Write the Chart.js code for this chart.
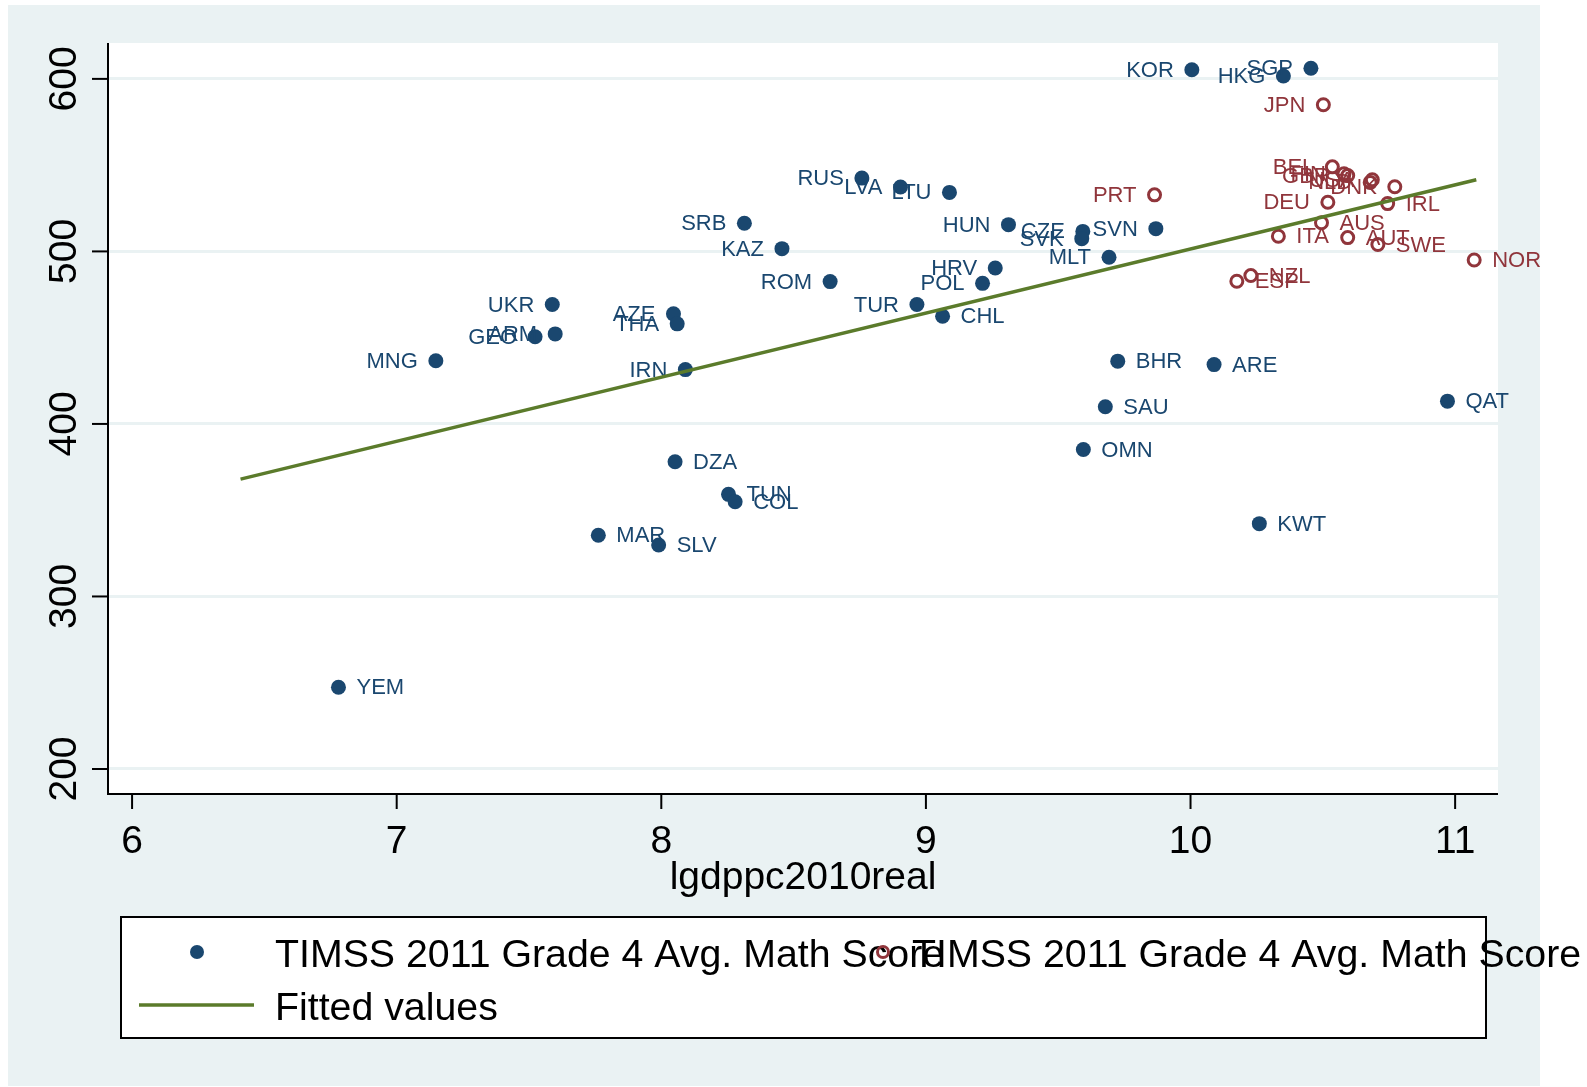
<!DOCTYPE html>
<html>
<head>
<meta charset="utf-8">
<script src="https://cdn.jsdelivr.net/npm/chart.js@4.4.1/dist/chart.umd.min.js"></script>
<style>
  html, body { margin: 0; padding: 0; background: #ffffff; }
  #chart { display: block; width: 1587px; height: 1087px; }
</style>
</head>
<body>
<canvas id="chart" width="1587" height="1087"></canvas>
<script>
// TIMSS 2011 grade 4 maths score vs log GDP per capita
const blueCodes = ['KOR', 'HKG', 'SGP', 'RUS', 'LVA', 'LTU', 'SRB', 'KAZ', 'HUN', 'CZE',
    'SVK', 'SVN', 'MLT', 'HRV', 'POL', 'ROM', 'TUR', 'CHL', 'UKR', 'AZE',
    'THA', 'ARM', 'GEO', 'MNG', 'IRN', 'BHR', 'ARE', 'SAU', 'QAT', 'OMN',
    'DZA', 'TUN', 'COL', 'MAR', 'SLV', 'KWT', 'YEM'];
const blueGdp = [10.005, 10.351, 10.455, 8.758, 8.904, 9.089, 8.314, 8.456, 9.312, 9.593,
    9.589, 9.869, 9.692, 9.262, 9.214, 8.638, 8.966, 9.063, 7.588, 8.046,
    8.060, 7.599, 7.523, 7.148, 8.091, 9.725, 10.089, 9.678, 10.971, 9.595,
    8.052, 8.254, 8.279, 7.762, 7.990, 10.260, 6.780];
const blueScore = [605.3, 601.7, 606.2, 542.5, 537.3, 534.2, 516.3, 501.6, 515.5, 511.6,
    507.4, 513.2, 496.6, 490.4, 481.5, 482.5, 469.2, 462.4, 469.2, 463.8,
    458.0, 452.2, 450.5, 436.6, 431.5, 436.4, 434.4, 410.0, 413.2, 385.2,
    378.1, 359.2, 354.9, 335.5, 329.8, 342.2, 247.4];

const redCodes = ['JPN', 'PRT', 'BEL', 'FIN', 'GBR', 'NLD', 'USA', 'DNK', 'DEU', 'IRL',
    'AUS', 'ITA', 'AUT', 'SWE', 'NOR', 'NZL', 'ESP'];
const redGdp = [10.502, 9.864, 10.536, 10.580, 10.594, 10.679, 10.687, 10.772, 10.519, 10.745,
    10.495, 10.332, 10.594, 10.708, 11.072, 10.228, 10.175];
const redScore = [585.0, 532.8, 549.0, 545.0, 544.0, 540.0, 541.5, 537.5, 528.5, 527.7,
    516.6, 508.8, 508.0, 504.0, 495.0, 486.0, 482.7];

// fitted line end points
const fitGdp = [6.41, 11.08];
const fitScore = [368.0, 541.5];

const xTicks = [6, 7, 8, 9, 10, 11];
const yTicks = [200, 300, 400, 500, 600];

// markers whose label sits on the left of the point
const labelLeft = ['KOR', 'HKG', 'SGP', 'RUS', 'LVA', 'LTU', 'SRB', 'KAZ', 'HUN', 'CZE',
    'SVK', 'SVN', 'MLT', 'HRV', 'POL', 'ROM', 'TUR', 'UKR', 'AZE', 'THA', 'ARM', 'GEO',
    'MNG', 'IRN', 'JPN', 'PRT', 'BEL', 'FIN', 'GBR', 'NLD', 'USA', 'DNK', 'DEU'];

const legendText = 'TIMSS 2011 Grade 4 Avg. Math Score';
const fitText = 'Fitted values';
const xTitle = 'lgdppc2010real';

const BLUE = '#1a476f';
const RED = '#90353b';
const GREEN = '#5b7b2b';
const PANEL = '#eaf2f3';
const FONT = '"Liberation Sans", Arial, sans-serif';

function toPoints(xs, ys) {
    return xs.map((x, i) => ({ x: x, y: ys[i] }));
}

const stataLook = {
    id: 'stataLook',
    beforeDraw(chart) {
        const ctx = chart.ctx;
        const a = chart.chartArea;
        ctx.save();
        ctx.fillStyle = '#ffffff';
        ctx.fillRect(0, 0, chart.width, chart.height);
        ctx.fillStyle = PANEL;
        ctx.fillRect(8, 5, 1532, 1081);
        ctx.fillStyle = '#ffffff';
        ctx.fillRect(a.left, a.top, a.right - a.left, a.bottom - a.top);
        ctx.restore();
    },
    afterDatasetDraw(chart, args) {
        // marker labels for the two scatter series
        let codes = null, color = null;
        if (args.index === 1) { codes = blueCodes; color = BLUE; }
        if (args.index === 2) { codes = redCodes; color = RED; }
        if (!codes) return;
        const ctx = chart.ctx;
        ctx.save();
        ctx.font = '22px ' + FONT;
        ctx.fillStyle = color;
        ctx.textBaseline = 'middle';
        args.meta.data.forEach((pt, i) => {
            const left = labelLeft.includes(codes[i]);
            ctx.textAlign = left ? 'right' : 'left';
            ctx.fillText(codes[i], pt.x + (left ? -18 : 18), pt.y + 1);
        });
        ctx.restore();
    },
    afterDraw(chart) {
        const ctx = chart.ctx;
        const a = chart.chartArea;
        const xs = chart.scales.x;
        const ys = chart.scales.y;
        ctx.save();
        // axes
        ctx.strokeStyle = '#000000';
        ctx.lineWidth = 2;
        ctx.beginPath();
        ctx.moveTo(a.left, a.top);
        ctx.lineTo(a.left, a.bottom);
        ctx.lineTo(a.right, a.bottom);
        ctx.stroke();

        ctx.fillStyle = '#000000';
        ctx.font = '39px ' + FONT;
        ctx.textAlign = 'center';
        ctx.textBaseline = 'middle';
        yTicks.forEach(v => {
            const y = ys.getPixelForValue(v);
            ctx.beginPath();
            ctx.moveTo(a.left - 16, y);
            ctx.lineTo(a.left, y);
            ctx.stroke();
            ctx.save();
            ctx.translate(64, y);
            ctx.rotate(-Math.PI / 2);
            ctx.fillText(String(v), 0, 1);
            ctx.restore();
        });
        xTicks.forEach(v => {
            const x = xs.getPixelForValue(v);
            ctx.beginPath();
            ctx.moveTo(x, a.bottom);
            ctx.lineTo(x, a.bottom + 15);
            ctx.stroke();
            ctx.textBaseline = 'alphabetic';
            ctx.fillText(String(v), x, 853);
        });
        ctx.fillText(xTitle, (a.left + a.right) / 2, 889);

        // legend
        ctx.fillStyle = '#ffffff';
        ctx.fillRect(121, 917, 1365, 121);
        ctx.strokeRect(121, 917, 1365, 121);

        ctx.fillStyle = BLUE;
        ctx.beginPath();
        ctx.arc(197, 952, 7, 0, Math.PI * 2);
        ctx.fill();

        ctx.font = '39.3px ' + FONT;
        ctx.textAlign = 'left';
        ctx.textBaseline = 'alphabetic';
        ctx.fillStyle = '#000000';
        ctx.fillText(legendText, 275, 967);

        ctx.strokeStyle = RED;
        ctx.lineWidth = 3;
        ctx.beginPath();
        ctx.arc(883, 952, 5.5, 0, Math.PI * 2);
        ctx.stroke();

        ctx.fillStyle = '#000000';
        ctx.fillText(legendText, 912, 967);

        ctx.strokeStyle = GREEN;
        ctx.lineWidth = 3.5;
        ctx.beginPath();
        ctx.moveTo(139, 1005);
        ctx.lineTo(254, 1005);
        ctx.stroke();
        ctx.fillText(fitText, 275, 1020);
        ctx.restore();
    }
};

const ctx = document.getElementById('chart').getContext('2d');
const chart = new Chart(ctx, {
    type: 'scatter',
    data: {
        datasets: [
            {
                label: 'Fitted values',
                data: toPoints(fitGdp, fitScore),
                showLine: true,
                borderColor: GREEN,
                borderWidth: 3.5,
                pointRadius: 0,
                order: 0
            },
            {
                label: legendText,
                data: toPoints(blueGdp, blueScore),
                backgroundColor: BLUE,
                borderWidth: 0,
                pointRadius: 7.5,
                order: 2
            },
            {
                label: legendText,
                data: toPoints(redGdp, redScore),
                backgroundColor: 'rgba(0,0,0,0)',
                borderColor: RED,
                borderWidth: 3,
                pointRadius: 6,
                order: 1
            }
        ]
    },
    options: {
        responsive: false,
        animation: false,
        layout: { padding: { left: 108, top: 43, right: 89, bottom: 293 } },
        plugins: {
            legend: { display: false },
            tooltip: { enabled: false }
        },
        scales: {
            x: {
                type: 'linear',
                min: 5.909,
                max: 11.162,
                grid: { display: false },
                border: { display: false },
                ticks: { display: false },
                afterBuildTicks: s => { s.ticks = xTicks.map(v => ({ value: v })); },
                afterFit: s => { s.height = 0; }
            },
            y: {
                type: 'linear',
                min: 185.5,
                max: 620.8,
                grid: { color: PANEL, lineWidth: 3, drawTicks: false },
                border: { display: false },
                ticks: { display: false },
                afterBuildTicks: s => { s.ticks = yTicks.map(v => ({ value: v })); },
                afterFit: s => { s.width = 0; }
            }
        }
    },
    plugins: [stataLook]
});
</script>
</body>
</html>
